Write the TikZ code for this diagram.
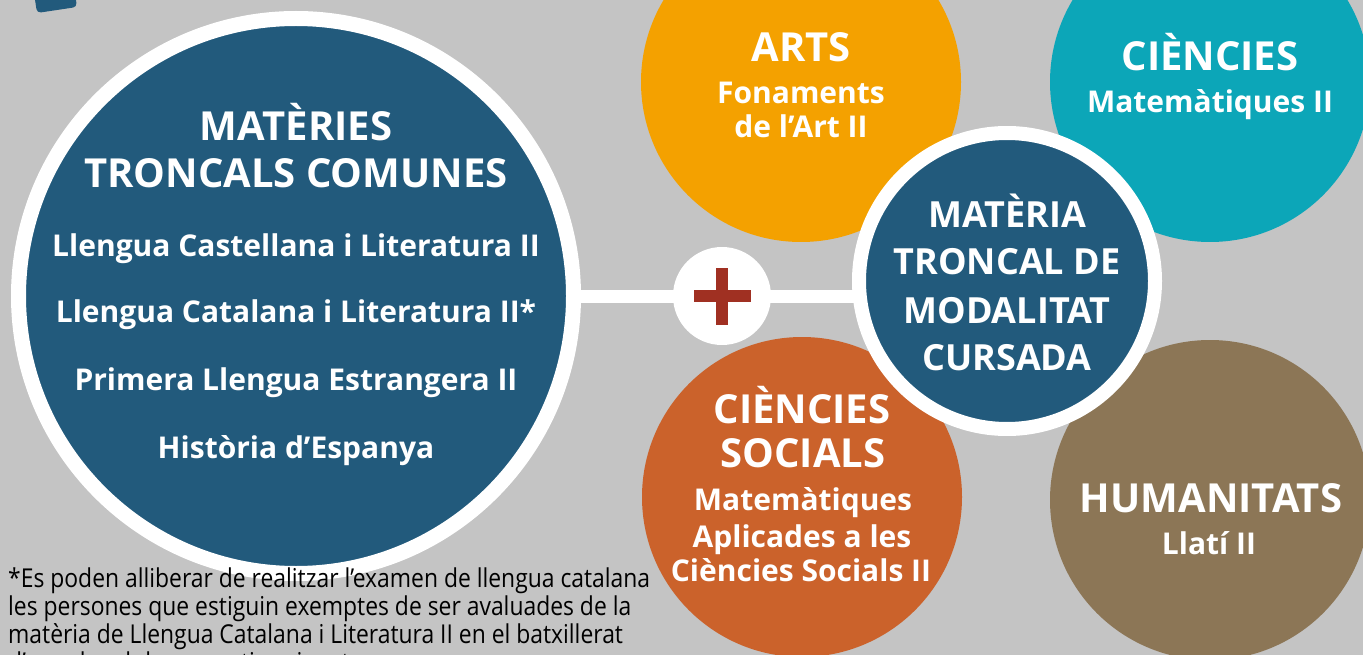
\documentclass[tikz,border=0pt]{standalone}
\usepackage{fontspec}
\setmainfont{Open Sans}
\newfontfamily\notef[FakeStretch=0.88]{Open Sans}
\usetikzlibrary{calc}
\pgfdeclarelayer{background}
\pgfsetlayers{background,main}
\definecolor{bg}{RGB}{196,196,196}
\definecolor{navy}{RGB}{34,90,124}
\definecolor{artsc}{RGB}{244,161,0}
\definecolor{cienc}{RGB}{12,166,184}
\definecolor{socc}{RGB}{203,98,43}
\definecolor{humc}{RGB}{140,118,86}
\definecolor{plusc}{RGB}{160,48,34}
\tikzset{
  disc/.style={circle, inner sep=0pt, minimum size=320pt},
  ttl/.style={text=white, anchor=base, inner sep=0pt, font=\fontsize{40}{40}\selectfont\bfseries},
  mttl/.style={text=white, anchor=base, inner sep=0pt, font=\fontsize{36}{36}\selectfont\bfseries},
  ctl/.style={text=white, anchor=base, inner sep=0pt, font=\fontsize{40}{40}\selectfont\bfseries},
  itm/.style={text=white, anchor=base, inner sep=0pt, font=\fontsize{30}{30}\selectfont\bfseries},
  sub/.style={text=white, anchor=base, inner sep=0pt, font=\fontsize{30}{30}\selectfont\bfseries},
  note/.style={text=black, anchor=base west, inner sep=0pt, font=\notef\fontsize{26}{28}\selectfont},
  bar/.style={white, line width=13pt}
}
\begin{document}
\begin{tikzpicture}[x=1pt,y=-1pt]
\useasboundingbox (0,0) rectangle (1363,655);
\clip (0,0) rectangle (1363,655);
\begin{pgfonlayer}{background}
\fill[bg] (0,0) rectangle (1363,655);
\end{pgfonlayer}
% top-left tab
\fill[navy, rounded corners=4pt] (31,-27) -- (37,13) -- (77,7) -- (71,-33) -- cycle;
% main circle
\node[circle, inner sep=0pt, minimum size=555pt, fill=navy, draw=white, line width=15pt] (big) at (296,296) {};
% plus
\node[circle, inner sep=0pt, minimum size=98pt, fill=white] (plus) at (722,296) {};
\fill[plusc] ($(plus.center)+(-28.5,-6)$) rectangle ($(plus.center)+(28.5,6)$);
\fill[plusc] ($(plus.center)+(-6,-28.5)$) rectangle ($(plus.center)+(6,28.5)$);
% coloured circles
\node[disc, fill=artsc] (arts) at (801,82) {};
\node[disc, fill=cienc] (cien) at (1210,82) {};
\node[disc, fill=socc] (soc) at (802,497) {};
\node[disc, fill=humc] (hum) at (1210,500) {};
% central circle
\node[circle, inner sep=0pt, minimum size=296pt, fill=navy, draw=white, line width=14pt] (mid) at (1007,281) {};
% connector bar
\begin{pgfonlayer}{background}
\draw[bar] (big.center) -- (plus.center) -- (plus.center -| mid.center);
\end{pgfonlayer}
% texts main circle
\node[ttl] (t1) at (296,141) {MATÈRIES};
\node[ttl] (t2) at (296,188) {TRONCALS COMUNES};
\node[itm] (t3) at (296,256) {Llengua Castellana i Literatura II};
\node[itm] (t4) at (296,322) {Llengua Catalana i Literatura II*};
\node[itm] (t5) at (296,390) {Primera Llengua Estrangera II};
\node[itm] (t6) at (296,458) {Història d’Espanya};
% central
\node[mttl] (m1) at (1007,228) {MATÈRIA};
\node[mttl] (m2) at (1007,275) {TRONCAL DE};
\node[mttl] (m3) at (1007,323) {MODALITAT};
\node[mttl] (m4) at (1007,370) {CURSADA};
% arts
\node[ctl] (a1) at (801,62) {ARTS};
\node[sub] (a2) at (801,104) {Fonaments};
\node[sub] (a3) at (801,138) {de l’Art II};
% ciencies
\node[ctl] (c1) at (1210,71) {CIÈNCIES};
\node[sub] (c2) at (1210,113) {Matemàtiques II};
% socials
\node[ctl] (s1) at (802,423) {CIÈNCIES};
\node[ctl] (s2) at (803,467) {SOCIALS};
\node[sub] (s3) at (803,510) {Matemàtiques};
\node[sub] (s4) at (802,547) {Aplicades a les};
\node[sub] (s5) at (801,581) {Ciències Socials II};
% humanitats
\node[ctl] (h1) at (1211,512) {HUMANITATS};
\node[sub] (h2) at (1209,554) {Llatí II};
% footnote
\node[note] (n1) at (8,587) {*Es poden alliberar de realitzar l’examen de llengua catalana};
\node[note] (n2) at (8,615) {les persones que estiguin exemptes de ser avaluades de la};
\node[note] (n3) at (8,643) {matèria de Llengua Catalana i Literatura II en el batxillerat};
\node[note] (n4) at (8,671) {d’acord amb la normativa vigent.};
\end{tikzpicture}
\end{document}
